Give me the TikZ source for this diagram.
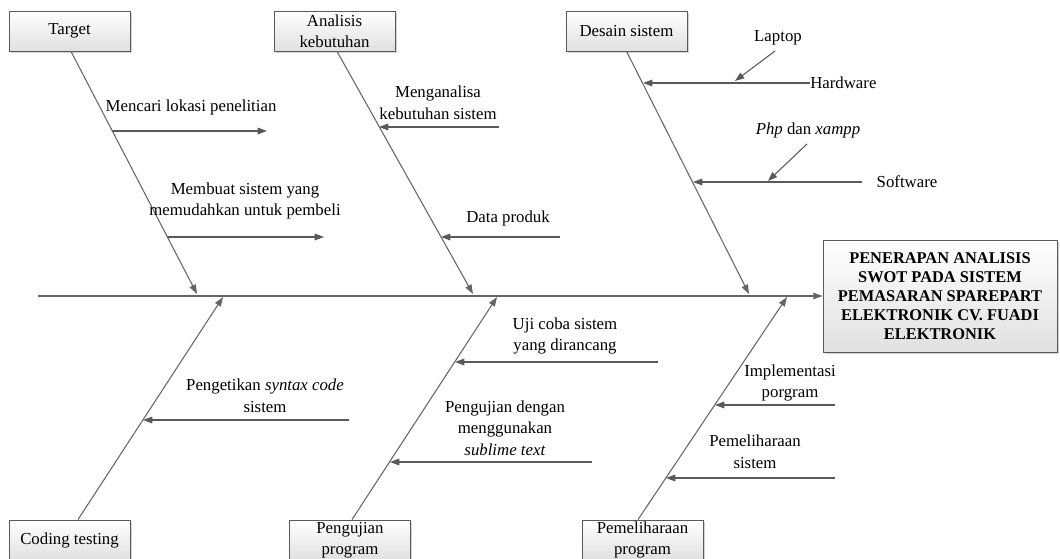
\documentclass[tikz,border=0pt]{standalone}
\usepackage{fontspec}
\setmainfont{Liberation Serif}
\usetikzlibrary{arrows.meta,shadows,calc}
\tikzset{
  bone/.style={draw=black!60, line width=0.8pt, -{Triangle[length=7pt,width=5pt]}},
  sub/.style={draw=black!65, line width=0.8pt, -{Triangle[length=7pt,width=5pt]}},
  catbox/.style={draw=black!65, line width=0.6pt, top color=white, bottom color=black!12,
     minimum width=90.75pt, minimum height=30pt, align=center, inner sep=1pt,
     drop shadow={shadow xshift=1.2pt, shadow yshift=-1.2pt, opacity=0.35},
     font=\fontsize{12.6}{15.8}\selectfont},
  lbl/.style={align=center, inner sep=0pt, font=\fontsize{12.6}{16.2}\selectfont},
}
\begin{document}
\begin{tikzpicture}[x=0.75pt,y=-0.75pt]
\useasboundingbox (0,0) rectangle (1060,559);
% category boxes
\node[catbox] (target) at (69.5,31) {Target};
\node[catbox] (analisis) at (334.5,31) {Analisis\\kebutuhan};
\node[catbox] (desain) at (626.5,31) {Desain sistem};
\node[catbox] (coding) at (69.5,540) {Coding testing};
\node[catbox] (pengujian) at (350,540) {Pengujian\\program};
\node[catbox] (pemeliharaan) at (642.5,540) {Pemeliharaan\\program};
% head
\node[draw=black!65, line width=0.6pt, top color=white, bottom color=black!12,
      drop shadow={shadow xshift=1.5pt, shadow yshift=-1.5pt, opacity=0.35},
      minimum width=175.5pt, minimum height=84pt, align=center, inner sep=1pt,
      font=\fontsize{12.3}{14.2}\selectfont\bfseries] (head) at (940,296)
  {PENERAPAN ANALISIS\\SWOT PADA SISTEM\\PEMASARAN SPAREPART\\ELEKTRONIK CV. FUADI\\ELEKTRONIK};
% spine
\coordinate (tail) at (38,296);
\draw[bone] (tail) -- (head.west);
% bone end points on spine
\coordinate (s1) at (197,294);
\coordinate (s2) at (473,294);
\coordinate (s3) at (749,294);
\coordinate (s4) at (223,297);
\coordinate (s5) at (497,297);
\coordinate (s6) at (787,297);
\draw[bone] ($(target.south)+(1.5,0)$) -- (s1);
\draw[bone] ($(analisis.south)+(2.5,0)$) -- (s2);
\draw[bone] (desain.south) -- (s3);
\draw[bone] ($(coding.north)+(8.5,0)$) -- (s4);
\draw[bone] ($(pengujian.north)+(2,0)$) -- (s5);
\draw[bone] ($(pemeliharaan.north)+(-4.5,0)$) -- (s6);
% Target causes
\coordinate (a1) at (112,131); \coordinate (a1e) at (267,131);
\draw[sub] (a1) -- (a1e);
\node[lbl] (l1) at (191,107) {Mencari lokasi penelitian};
\coordinate (a2) at (167,237); \coordinate (a2e) at (324,237);
\draw[sub] (a2) -- (a2e);
\node[lbl] (l2) at (245,201) {Membuat sistem yang\\memudahkan untuk pembeli};
% Analisis causes
\coordinate (b1) at (499,127); \coordinate (b1e) at (379,127);
\draw[sub] (b1) -- (b1e);
\node[lbl] (l3) at (438,103) {Menganalisa\\kebutuhan sistem};
\coordinate (b2) at (560,237); \coordinate (b2e) at (441,237);
\draw[sub] (b2) -- (b2e);
\node[lbl] (l4) at (508,218) {Data produk};
% Desain causes
\coordinate (c1) at (810,83); \coordinate (c1e) at (643,83);
\draw[sub] (c1) -- (c1e);
\node[lbl, anchor=west] (hw) at (810,83) {Hardware};
\coordinate (c1a) at (775,51); \coordinate (c1b) at (735,81);
\draw[sub] (c1a) -- (c1b);
\node[lbl] (lap) at (778,38) {Laptop};
\coordinate (c2) at (862,182); \coordinate (c2e) at (693,182);
\draw[sub] (c2) -- (c2e);
\node[lbl] (sw) at (907,182) {Software};
\coordinate (c2a) at (807,144); \coordinate (c2b) at (768,181);
\draw[sub] (c2a) -- (c2b);
\node[lbl] (php) at (808,130) {\textit{Php} dan \textit{xampp}};
% Coding causes
\coordinate (d1) at (349,420); \coordinate (d1e) at (143,420);
\draw[sub] (d1) -- (d1e);
\node[lbl] (l5) at (265,396) {Pengetikan \textit{syntax code}\\sistem};
% Pengujian causes
\coordinate (e1) at (658,362); \coordinate (e1e) at (455,362);
\draw[sub] (e1) -- (e1e);
\node[lbl] (l6) at (565,336) {Uji coba sistem\\yang dirancang};
\coordinate (e2) at (592,462); \coordinate (e2e) at (390,462);
\draw[sub] (e2) -- (e2e);
\node[lbl] (l7) at (505,428) {Pengujian dengan\\menggunakan\\\textit{sublime text}};
% Pemeliharaan causes
\coordinate (f1) at (835,405); \coordinate (f1e) at (715,405);
\draw[sub] (f1) -- (f1e);
\node[lbl] (l8) at (790,383) {Implementasi\\porgram};
\coordinate (f2) at (835,478); \coordinate (f2e) at (666,478);
\draw[sub] (f2) -- (f2e);
\node[lbl] (l9) at (755,452) {Pemeliharaan\\sistem};
\end{tikzpicture}
\end{document}
